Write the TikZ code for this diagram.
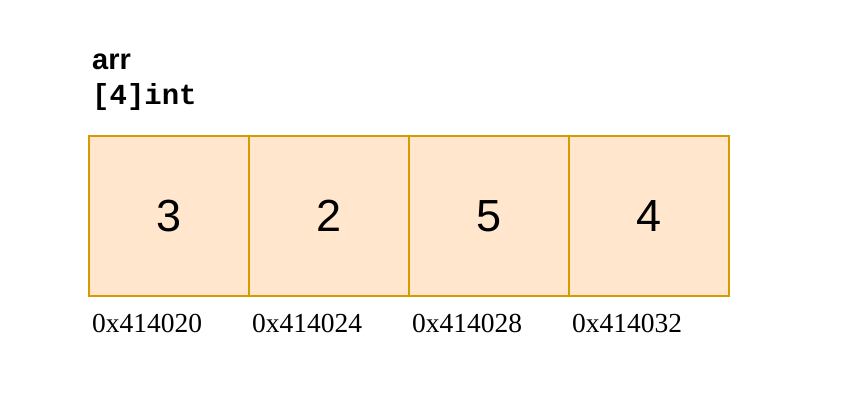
\documentclass[tikz,border=0pt]{standalone}
\usepackage{fontspec}
\setmainfont{Liberation Serif}
\setsansfont{Liberation Sans}
\setmonofont{Liberation Mono}
\definecolor{cellfill}{HTML}{FFE6CC}
\definecolor{celldraw}{HTML}{D79B00}
\begin{document}
\begin{tikzpicture}[x=1pt,y=-1pt,
  cell/.style={draw=celldraw,fill=cellfill,line width=2pt,minimum width=160pt,minimum height=160pt,inner sep=0pt,outer sep=0pt,anchor=north west,font=\sffamily\fontsize{45}{50}\selectfont},
  addr/.style={anchor=base west,inner sep=0pt,font=\rmfamily\fontsize{27.5}{30}\selectfont},
  lbl/.style={anchor=base west,inner sep=0pt}]
\useasboundingbox (0,0) rectangle (858,408);
\fill[white] (0,0) rectangle (858,408);
\node[lbl,font=\sffamily\bfseries\fontsize{29}{32}\selectfont] (name) at (92,69) {arr};
\node[lbl,font=\ttfamily\bfseries\fontsize{29}{32}\selectfont] (type) at (92,104) {[4]int};
\node[cell] (c0) at (89,136) {3};
\node[cell] (c1) at (249,136) {2};
\node[cell] (c2) at (409,136) {5};
\node[cell] (c3) at (569,136) {4};
\node[addr] (a0) at (92,332) {0x414020};
\node[addr] (a1) at (252,332) {0x414024};
\node[addr] (a2) at (412,332) {0x414028};
\node[addr] (a3) at (572,332) {0x414032};
\end{tikzpicture}
\end{document}
